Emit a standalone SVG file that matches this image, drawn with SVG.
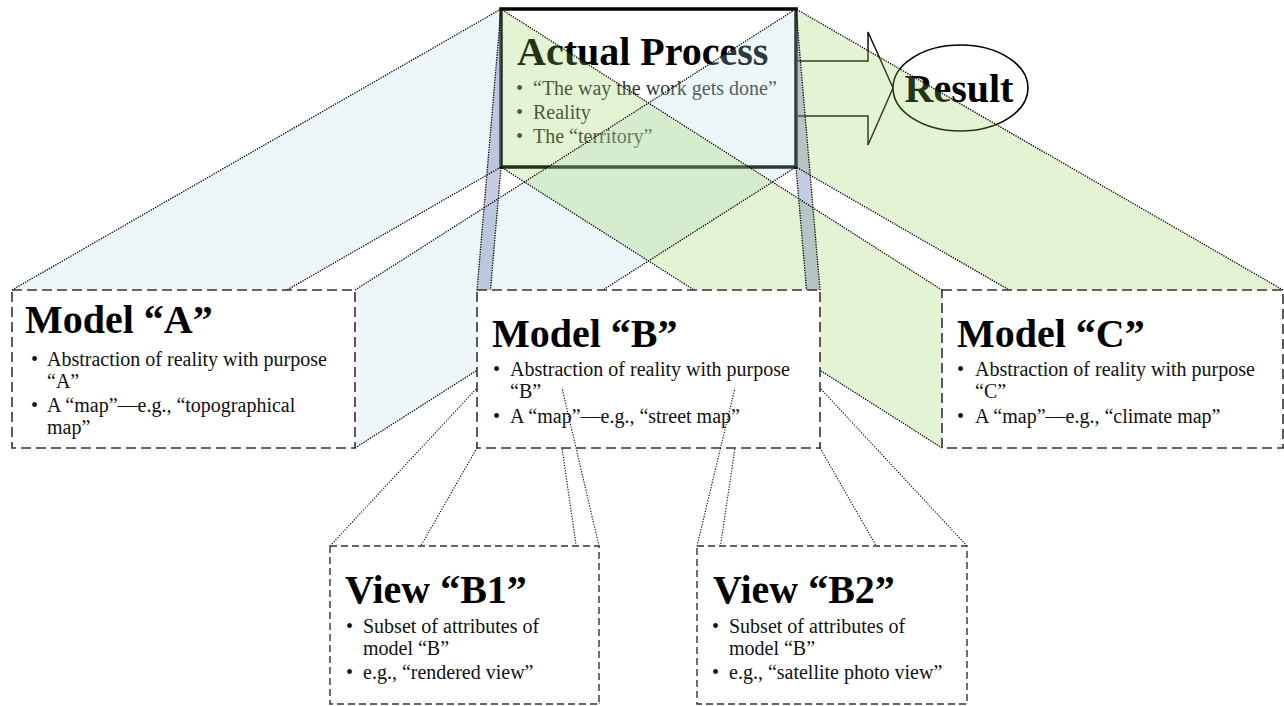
<svg xmlns="http://www.w3.org/2000/svg" width="1284" height="706" viewBox="0 0 1284 706">
<defs>
<style>
.title{font-family:"Liberation Serif","Times New Roman",serif;font-weight:bold;font-size:40px;fill:#000}
.body{font-family:"Liberation Serif","Times New Roman",serif;font-size:20px;fill:#111}
.soft{fill:#333}
.dot{stroke:#000;stroke-width:1.3;stroke-dasharray:1.3 1.2;fill:none}
.vdot{stroke:#000;stroke-width:1.1;stroke-dasharray:1.2 1.5;fill:none}
.faceA{fill:#B7DDE8;fill-opacity:0.25}
.faceB{fill:#5f70a5;fill-opacity:0.35}
.faceC{fill:#92D050;fill-opacity:0.25}
.mbox{fill:#fff;stroke:#333;stroke-width:1.6;stroke-dasharray:10 5}
.vbox{fill:#fff;stroke:#333;stroke-width:1.4;stroke-dasharray:7 4}
</style>
</defs>
<rect width="1284" height="706" fill="#fff"/>

<g id="actual-process">
<rect x="501" y="9" width="295" height="158" fill="#fff" stroke="#000" stroke-width="3.5"/>
<text class="title" x="517" y="65">Actual Process</text>
<g class="body soft">
<text x="516" y="95">•</text><text x="533" y="95">“The way the work gets done”</text>
<text x="516" y="119">•</text><text x="533" y="119">Reality</text>
<text x="516" y="143">•</text><text x="533" y="143">The “territory”</text>
</g>
</g>

<g id="connector-result-arrow">
<polygon points="797,61 868,61 868,32 893,88 868,145 868,116 797,116" fill="#fff" stroke="#111" stroke-width="1.5" stroke-linejoin="miter"/>
</g>

<g id="result">
<ellipse cx="960.5" cy="88" rx="67.5" ry="43" fill="#fff" stroke="#000" stroke-width="1.6"/>
<text class="title" x="959" y="102" text-anchor="middle">Result</text>
</g>

<g id="connectors-models">
<polygon class="faceA" points="12,290 501,9 501,167 12,448"/>
<polygon class="faceA" points="355,290 796,9 796,167 355,448"/>
<polygon class="faceC" points="942,290 501,9 501,167 942,448"/>
<polygon class="faceC" points="1283,290 796,9 796,167 1283,448"/>
<polygon class="faceB" points="477,290 501,9 501,167 477,448"/>
<polygon class="faceB" points="820,290 796,9 796,167 820,448"/>
<line class="dot" x1="12" y1="290" x2="501" y2="9"/>
<line class="dot" x1="355" y1="290" x2="796" y2="9"/>
<line class="dot" x1="12" y1="448" x2="501" y2="167"/>
<line class="dot" x1="355" y1="448" x2="796" y2="167"/>
<line class="dot" x1="942" y1="290" x2="501" y2="9"/>
<line class="dot" x1="1283" y1="290" x2="796" y2="9"/>
<line class="dot" x1="942" y1="448" x2="501" y2="167"/>
<line class="dot" x1="1283" y1="448" x2="796" y2="167"/>
<line class="dot" x1="477" y1="290" x2="501" y2="9"/>
<line class="dot" x1="820" y1="290" x2="796" y2="9"/>
<line class="dot" x1="477" y1="448" x2="501" y2="167"/>
<line class="dot" x1="820" y1="448" x2="796" y2="167"/>
</g>

<g id="model-a">
<rect class="mbox" x="12" y="290" width="343" height="158"/>
<text class="title" x="25" y="333">Model “A”</text>
<g class="body">
<text x="31" y="366">•</text><text x="47" y="366">Abstraction of reality with purpose</text>
<text x="47" y="388">“A”</text>
<text x="31" y="412">•</text><text x="47" y="412">A “map”—e.g., “topographical</text>
<text x="47" y="434">map”</text>
</g>
</g>

<g id="model-b">
<rect class="mbox" x="477" y="290" width="343" height="158"/>
<text class="title" x="492" y="347">Model “B”</text>
<g class="body">
<text x="493" y="376">•</text><text x="510" y="376">Abstraction of reality with purpose</text>
<text x="510" y="398">“B”</text>
<text x="493" y="423">•</text><text x="510" y="423">A “map”—e.g., “street map”</text>
</g>
</g>

<g id="model-c">
<rect class="mbox" x="942" y="290" width="341" height="158"/>
<text class="title" x="957" y="347">Model “C”</text>
<g class="body">
<text x="957" y="376">•</text><text x="975" y="376">Abstraction of reality with purpose</text>
<text x="975" y="398">“C”</text>
<text x="957" y="423">•</text><text x="975" y="423">A “map”—e.g., “climate map”</text>
</g>
</g>

<g id="connectors-views">
<line class="vdot" x1="330" y1="546" x2="477" y2="388"/>
<line class="vdot" x1="599" y1="546" x2="562" y2="388"/>
<line class="vdot" x1="330" y1="704" x2="477" y2="448"/>
<line class="vdot" x1="599" y1="704" x2="562" y2="448"/>
<line class="vdot" x1="697" y1="546" x2="735" y2="388"/>
<line class="vdot" x1="967" y1="546" x2="820" y2="388"/>
<line class="vdot" x1="697" y1="704" x2="735" y2="448"/>
<line class="vdot" x1="967" y1="704" x2="820" y2="448"/>
</g>

<g id="view-b1">
<rect class="vbox" x="330" y="546" width="269" height="158"/>
<text class="title" x="345" y="603">View “B1”</text>
<g class="body">
<text x="346" y="633">•</text><text x="363" y="633">Subset of attributes of</text>
<text x="363" y="655">model “B”</text>
<text x="346" y="679">•</text><text x="363" y="679">e.g., “rendered view”</text>
</g>
</g>

<g id="view-b2">
<rect class="vbox" x="697" y="546" width="270" height="158"/>
<text class="title" x="713" y="603">View “B2”</text>
<g class="body">
<text x="712" y="633">•</text><text x="729" y="633">Subset of attributes of</text>
<text x="729" y="655">model “B”</text>
<text x="712" y="679">•</text><text x="729" y="679">e.g., “satellite photo view”</text>
</g>
</g>
</svg>
